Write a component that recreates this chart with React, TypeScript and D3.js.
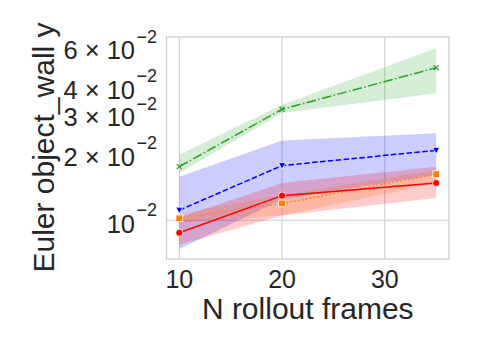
import React from 'react';
import * as d3 from 'd3';

// x values (rollout frames)
const frames = [10, 20, 35];
const xTicks = [10, 20, 30];

// mean + confidence band per series
const greenMean = [0.0174, 0.0315, 0.0484];
const greenLo = [0.0163, 0.0303, 0.0372];
const greenHi = [0.0197, 0.033, 0.0592];

const blueMean = [0.0111, 0.0176, 0.0206];
const blueLo = [0.00743, 0.0124, 0.016];
const blueHi = [0.0157, 0.0228, 0.0246];

const orangeMean = [0.0102, 0.0119, 0.0161];
const orangeLo = [0.00975, 0.0105, 0.0147];
const orangeHi = [0.0107, 0.013, 0.0168];

const redMean = [0.00879, 0.0129, 0.0147];
const redLo = [0.00777, 0.0105, 0.0126];
const redHi = [0.0103, 0.0147, 0.0174];

const yTicks = [0.01, 0.02, 0.03, 0.04, 0.06];
const yTickMantissa = ['', '2', '3', '4', '6'];

const W = 479;
const H = 355;
const FONT = '"Liberation Sans", Arial, sans-serif';
const TEXT = '#262626';
const GRID = '#cccccc';

type Series = {
  color: string;
  mean: number[];
  lo: number[];
  hi: number[];
  dash: string;
  marker: 'x' | 'v' | 's' | 'o';
};

const series: Series[] = [
  { color: '#2ca02c', mean: greenMean, lo: greenLo, hi: greenHi, dash: '9.6,2.4,1.5,2.4', marker: 'x' },
  { color: '#0000ff', mean: blueMean, lo: blueLo, hi: blueHi, dash: '5.5,2.4', marker: 'v' },
  { color: '#ff7f0e', mean: orangeMean, lo: orangeLo, hi: orangeHi, dash: '1.5,2.5', marker: 's' },
  { color: '#ff0000', mean: redMean, lo: redLo, hi: redHi, dash: '', marker: 'o' },
];

const App = () => {
  const margin = { left: 166.5, right: 30, top: 37, bottom: 96 };
  const x = d3.scaleLinear().domain([8.75, 36.25]).range([margin.left, W - margin.right]);
  const y = d3.scaleLog().domain([0.0067, 0.0665]).range([H - margin.bottom, margin.top]);

  const line = (vals: number[]) =>
    d3.line<number>().x((_, i) => x(frames[i])).y(d => y(d))(vals) || '';
  const area = (lo: number[], hi: number[]) =>
    d3.area<number>().x(i => x(frames[i])).y0(i => y(lo[i])).y1(i => y(hi[i]))(frames.map((_, i) => i)) || '';

  const marker = (s: Series, cx: number, cy: number, k: number) => {
    if (s.marker === 'o') return <circle key={k} cx={cx} cy={cy} r={3.6} fill={s.color} stroke="#fff" strokeWidth={0.8} />;
    if (s.marker === 's') return <rect key={k} x={cx - 3.4} y={cy - 3.4} width={6.8} height={6.8} fill={s.color} stroke="#fff" strokeWidth={0.8} />;
    if (s.marker === 'v')
      return <path key={k} d={`M${cx - 3.6},${cy - 3}L${cx + 3.6},${cy - 3}L${cx},${cy + 3.6}Z`} fill={s.color} stroke="#fff" strokeWidth={0.8} />;
    return <path key={k} d={`M${cx - 2.5},${cy - 2.5}L${cx + 2.5},${cy + 2.5}M${cx - 2.5},${cy + 2.5}L${cx + 2.5},${cy - 2.5}`} stroke={s.color} strokeWidth={1.2} />;
  };

  const plotL = margin.left;
  const plotR = W - margin.right;
  const plotT = margin.top;
  const plotB = H - margin.bottom;

  return (
    <svg width={W} height={H} style={{ position: 'absolute', left: 0, top: 0, background: '#fff' }} fontFamily={FONT}>
      <rect x={0} y={0} width={W} height={H} fill="#fff" />
      {/* grid */}
      {xTicks.map(t => (
        <line key={t} x1={x(t)} x2={x(t)} y1={plotT} y2={plotB} stroke={GRID} strokeWidth={1} />
      ))}
      <line x1={plotL} x2={plotR} y1={y(0.01)} y2={y(0.01)} stroke={GRID} strokeWidth={1} />

      {/* bands */}
      {series.map((s, i) => (
        <path key={'a' + i} d={area(s.lo, s.hi)} fill={s.color} fillOpacity={0.2} stroke="none" />
      ))}
      {/* lines + markers */}
      {series.map((s, i) => (
        <g key={'l' + i}>
          <path d={line(s.mean)} fill="none" stroke={s.color} strokeWidth={1.5} strokeDasharray={s.dash || undefined} />
          {s.mean.map((v, j) => marker(s, x(frames[j]), y(v), j))}
        </g>
      ))}

      {/* frame */}
      <rect x={plotL} y={plotT} width={plotR - plotL} height={plotB - plotT} fill="none" stroke={GRID} strokeWidth={1.2} />

      {/* x ticks */}
      {xTicks.map(t => (
        <text key={t} x={x(t)} y={plotB + 29} textAnchor="middle" fontSize={25} fill={TEXT}>
          {t}
        </text>
      ))}
      <text x={(plotL + plotR) / 2} y={plotB + 60} textAnchor="middle" fontSize={30} fill={TEXT}>
        N rollout frames
      </text>

      {/* y ticks */}
      {yTicks.map((t, i) => (
        <g key={t}>
          <text x={135} y={y(t) + 12.5} textAnchor="end" fontSize={25.5} fill={TEXT}>
            {yTickMantissa[i] ? `${yTickMantissa[i]} × 10` : '10'}
          </text>
          <text x={157} y={y(t) - 4} textAnchor="end" fontSize={18} fill={TEXT}>
            −2
          </text>
        </g>
      ))}
      <text transform={`translate(54,${(23 + 272) / 2}) rotate(-90)`} textAnchor="middle" fontSize={30} fill={TEXT}>
        Euler object_wall y
      </text>
    </svg>
  );
};

export default App;
